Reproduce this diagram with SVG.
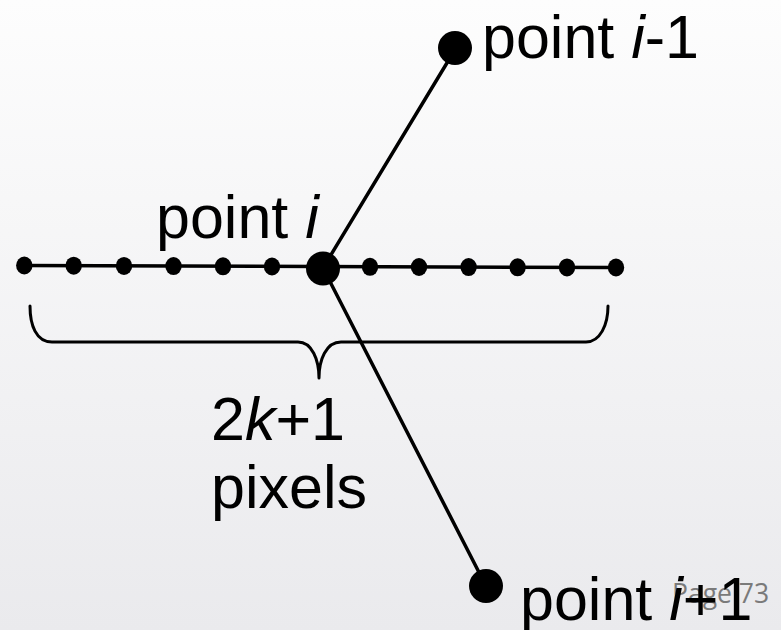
<svg xmlns="http://www.w3.org/2000/svg" width="781" height="630" viewBox="0 0 781 630">
<defs>
<linearGradient id="bg" x1="0" y1="0" x2="0" y2="1">
<stop offset="0" stop-color="#fdfdfd"/>
<stop offset="1" stop-color="#eaeaed"/>
</linearGradient>
</defs>
<style>
.ln{stroke:#000;stroke-width:3.5;fill:none;stroke-linecap:round}
.br{stroke:#000;stroke-width:3;fill:none;stroke-linecap:round;stroke-linejoin:round}
.dot{fill:#000}
.t{font-family:"Liberation Sans",Arial,sans-serif;font-size:61px;fill:#000}
.pg{font-family:"Open Sans","Liberation Sans",sans-serif;font-size:26.5px;fill:#7a7a7a}
</style>
<rect width="781" height="630" fill="url(#bg)"/>
<text class="pg" x="672" y="603">Page 73</text>
<g id="connectors">
<line class="ln" x1="24" y1="265.5" x2="616" y2="267.5"/>
<line class="ln" x1="323" y1="268" x2="456" y2="48"/>
<line class="ln" x1="323" y1="268" x2="486" y2="586"/>
<path id="brace" class="br" d="M30,306 C30,325 36,342 52,342 L298,342 C312,342 319,360 319,378 C319,360 326,342 341,342 L586,342 C600,342 608,325 608,306"/>
</g>
<g id="row-dots">
<ellipse class="dot" cx="24.3" cy="265.5" rx="8.2" ry="9"/>
<ellipse class="dot" cx="73.7" cy="265.7" rx="8.2" ry="9"/>
<ellipse class="dot" cx="124" cy="265.9" rx="8.2" ry="9"/>
<ellipse class="dot" cx="173.5" cy="266.1" rx="8.2" ry="9"/>
<ellipse class="dot" cx="223" cy="266.3" rx="8.2" ry="9"/>
<ellipse class="dot" cx="272" cy="266.5" rx="8.2" ry="9"/>
<ellipse class="dot" cx="370" cy="266.8" rx="8.2" ry="9"/>
<ellipse class="dot" cx="419" cy="267" rx="8.2" ry="9"/>
<ellipse class="dot" cx="468.6" cy="267.1" rx="8.2" ry="9"/>
<ellipse class="dot" cx="517.6" cy="267.3" rx="8.2" ry="9"/>
<ellipse class="dot" cx="567" cy="267.4" rx="8.2" ry="9"/>
<ellipse class="dot" cx="616" cy="267.5" rx="8.2" ry="9"/>
</g>
<g id="point-i">
<circle class="dot" cx="323" cy="268.5" r="17"/>
<text class="t" x="156" y="238">point <tspan font-style="italic">i</tspan></text>
</g>
<g id="point-i-minus-1">
<circle class="dot" cx="455" cy="48" r="17"/>
<text class="t" x="482" y="58">point <tspan font-style="italic">i</tspan>-1</text>
</g>
<g id="point-i-plus-1">
<circle class="dot" cx="486" cy="586" r="17"/>
<text class="t" x="520" y="620">point <tspan font-style="italic">i</tspan>+1</text>
</g>
<g id="label-2k1">
<text class="t" x="211" y="440">2<tspan font-style="italic">k</tspan>+1</text>
<text class="t" x="211" y="508">pixels</text>
</g>
</svg>
